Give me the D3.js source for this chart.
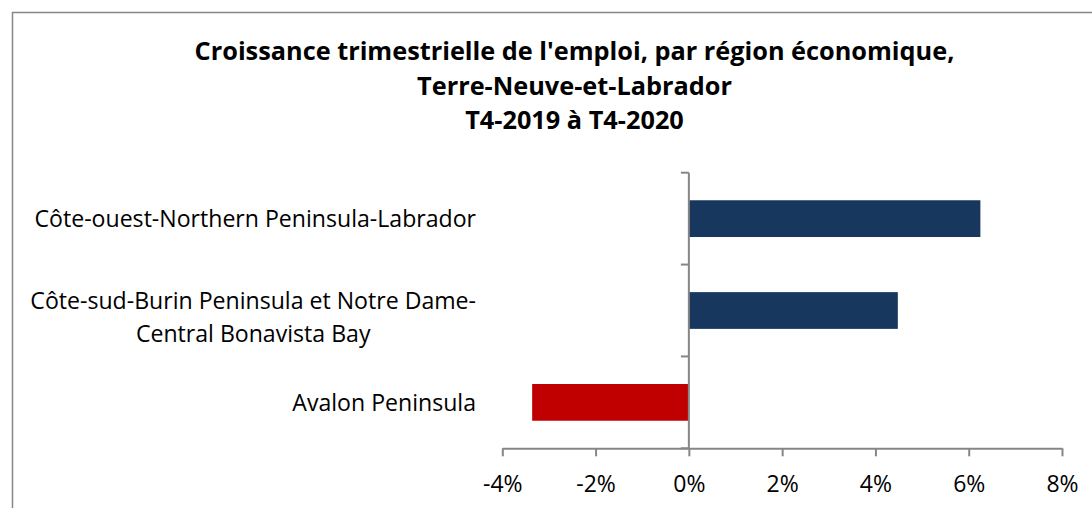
<!DOCTYPE html>
<html>
<head>
<meta charset="utf-8">
<script src="https://cdn.jsdelivr.net/npm/d3@7"></script>
<style>
    body { margin: 0; background: #fff; }
    svg { display: block; }
</style>
</head>
<body>
<div id="chart"></div>
<script>
// Quarterly employment growth, horizontal bars, D3 v7

const width = 1092;
const height = 508;

// Data
const regions = [
    ['Côte-ouest-Northern Peninsula-Labrador'],
    ['Côte-sud-Burin Peninsula et Notre Dame-', 'Central Bonavista Bay'],
    ['Avalon Peninsula']
];
const growth = [6.25, 4.48, -3.36];
const xTicks = [-4, -2, 0, 2, 4, 6, 8];
const titleLines = [
    "Croissance trimestrielle de l'emploi, par région économique,",
    'Terre-Neuve-et-Labrador',
    'T4-2019 à T4-2020'
];

const axisColor = '#868686';
const fontFamily = '"Open Sans", "Noto Sans", sans-serif';

const svg = d3.select('#chart')
    .append('svg')
    .attr('width', width)
    .attr('height', height);

// Outer chart border (runs off the right and bottom of the picture)
svg.append('rect')
    .attr('x', 12.5)
    .attr('y', 12.5)
    .attr('width', 1124)
    .attr('height', 600)
    .attr('fill', 'none')
    .attr('stroke', axisColor)
    .attr('stroke-width', 1.5);

// Title
svg.append('text')
    .attr('x', 574.5)
    .attr('y', 60)
    .attr('text-anchor', 'middle')
    .attr('font-family', fontFamily)
    .attr('font-weight', 'bold')
    .attr('font-size', '25.3px')
    .attr('fill', '#000')
    .selectAll('tspan')
    .data(titleLines)
    .enter()
    .append('tspan')
    .attr('x', 574.5)
    .attr('dy', (d, i) => i === 0 ? 0 : 34.5)
    .text(d => d);

// Scales
const x = d3.scaleLinear()
    .domain([-4, 8])
    .range([502.3, 1062]);

const y = d3.scaleBand()
    .domain(d3.range(regions.length))
    .range([172.7, 448.3])
    .paddingInner(0.6)
    .paddingOuter(0.3);

const data = regions.map((r, i) => ({ lines: r, value: growth[i], i: i }));

// Bars
svg.selectAll('.bar')
    .data(data)
    .enter()
    .append('rect')
    .attr('class', 'bar')
    .attr('x', d => x(Math.min(0, d.value)))
    .attr('y', d => y(d.i))
    .attr('width', d => Math.abs(x(d.value) - x(0)))
    .attr('height', y.bandwidth())
    .attr('fill', d => d.value < 0 ? '#C00000' : '#17375E');

// X axis along the bottom
const xAxis = svg.append('g')
    .attr('transform', `translate(0,${y.range()[1]})`)
    .call(d3.axisBottom(x)
        .tickValues(xTicks)
        .tickFormat(d => d + '%')
        .tickSize(8)
        .tickSizeOuter(0)
        .tickPadding(18.9));

xAxis.select('.domain')
    .attr('stroke', axisColor)
    .attr('stroke-width', 2);
xAxis.selectAll('.tick line')
    .attr('stroke', axisColor)
    .attr('stroke-width', 2);
xAxis.selectAll('.tick text')
    .attr('font-family', fontFamily)
    .attr('font-size', '23px')
    .attr('fill', '#000');

// Category axis at zero, ticks between categories
const boundaries = d3.range(regions.length + 1).map(k => y.range()[0] + k * (y.range()[1] - y.range()[0]) / regions.length);

svg.append('line')
    .attr('x1', x(0))
    .attr('x2', x(0))
    .attr('y1', boundaries[0])
    .attr('y2', boundaries[boundaries.length - 1])
    .attr('stroke', axisColor)
    .attr('stroke-width', 2);

svg.selectAll('.ytick')
    .data(boundaries)
    .enter()
    .append('line')
    .attr('class', 'ytick')
    .attr('x1', x(0) - 8)
    .attr('x2', x(0))
    .attr('y1', d => d)
    .attr('y2', d => d)
    .attr('stroke', axisColor)
    .attr('stroke-width', 2);

// Category labels, wrapped lines centred in a right-aligned block
const labelRight = 476;
const labels = svg.selectAll('.label')
    .data(data)
    .enter()
    .append('text')
    .attr('class', 'label')
    .attr('font-family', fontFamily)
    .attr('font-size', '23.1px')
    .attr('fill', '#000')
    .attr('text-anchor', 'middle');

labels.each(function(d) {
    const g = d3.select(this);
    const cy = y(d.i) + y.bandwidth() / 2;
    const tspans = g.selectAll('tspan')
        .data(d.lines)
        .enter()
        .append('tspan')
        .attr('y', (l, j) => cy + 8.3 - (d.lines.length - 1) * 9.8 + j * 33)
        .text(l => l);
    // measure the widest line to centre the block against the right edge
    let w = 0;
    tspans.each(function() { w = Math.max(w, this.getComputedTextLength()); });
    tspans.attr('x', labelRight - w / 2);
});
</script>
</body>
</html>
